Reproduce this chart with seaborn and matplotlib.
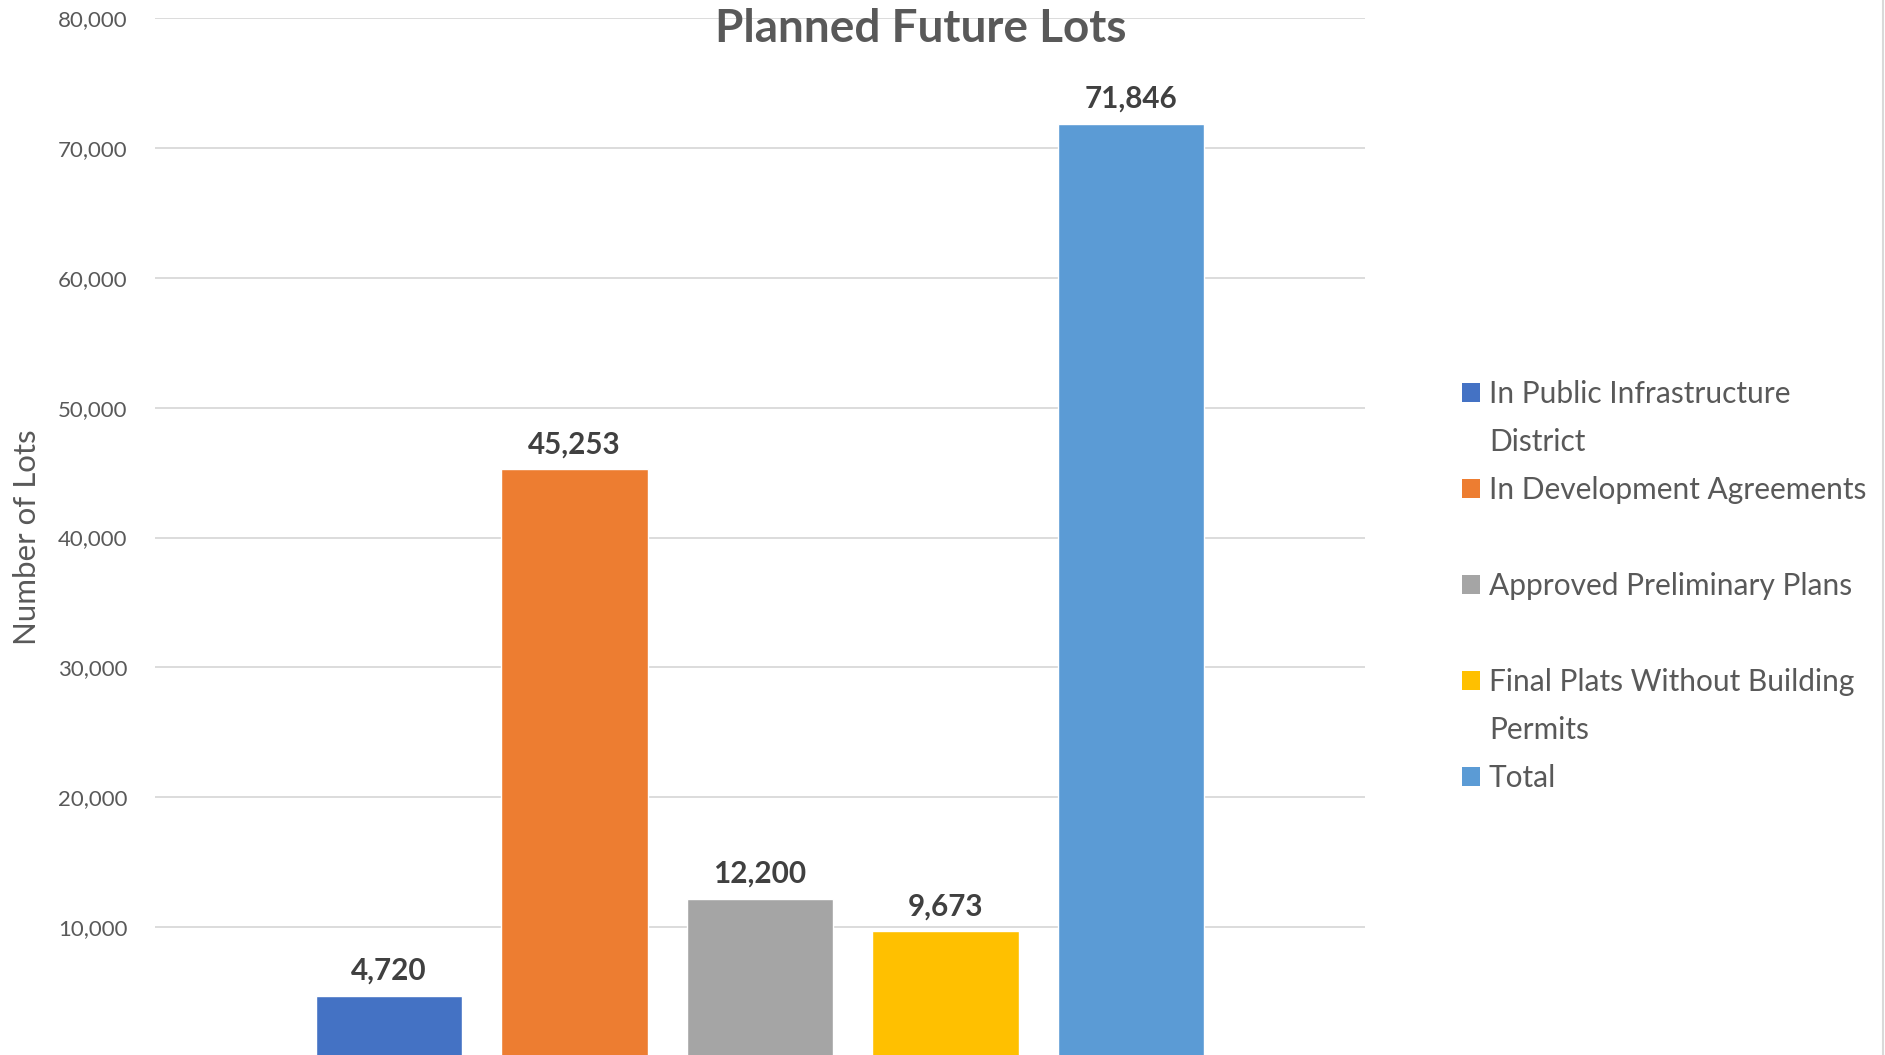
import matplotlib
matplotlib.use("Agg")
import matplotlib.pyplot as plt
from matplotlib.patches import Patch
from matplotlib.lines import Line2D
import seaborn as sns
import pandas as pd

categories = ["In Public Infrastructure District", "In Development Agreements",
              "Approved Preliminary Plans", "Final Plats Without Building Permits", "Total"]
values = [4720, 45253, 12200, 9673, 71846]
colors = ["#4472C4", "#ED7D31", "#A5A5A5", "#FFC000", "#5B9BD5"]
yticks = [10000, 20000, 30000, 40000, 50000, 60000, 70000, 80000]
title = "Planned Future Lots"
ylabel = "Number of Lots"

sns.set_theme(style="white")
plt.rcParams['font.family'] = ['Lato', 'DejaVu Sans']

df = pd.DataFrame({"cat": categories, "val": values})

fig = plt.figure(figsize=(18.85, 10.55), dpi=100)
ax = fig.add_axes([155/1885, -2/1055, (1365-155)/1885, (1057-18)/1055])
sns.barplot(data=df, x="cat", y="val", hue="cat", palette=colors, width=0.79,
            legend=False, ax=ax, saturation=1, zorder=3)
ax.set_xlim(-1.26, 5.26)
ax.set_ylim(0, 80000)
ax.set_yticks(yticks)
ax.set_yticklabels([f"{v:,}" for v in yticks])
ax.tick_params(axis='y', length=0, pad=20, labelsize=16, labelcolor="#595959")
ax.set_xticks([])
ax.set_xlabel("")
ax.set_ylabel(ylabel, fontsize=22.5, color="#595959")
ax.yaxis.set_label_coords(-(155-41)/1210, 0.5)
ax.grid(axis='y', color="#D9D9D9", linewidth=1.3, zorder=0)
for s in ax.spines.values():
    s.set_visible(False)

for i, v in enumerate(values):
    ax.annotate(f"{v:,}", (i, v), xytext=(0, 8), textcoords="offset points",
                ha="center", va="bottom", fontsize=21.3, fontweight="bold", color="#404040")

fig.text(921/1885, 1-29/1055, title, ha="center", va="center", fontsize=33,
         fontweight="bold", color="#595959")

# legend rows
leg_labels = ["In Public Infrastructure", "District", "In Development Agreements", " ",
              "Approved Preliminary Plans", " ", "Final Plats Without Building", "Permits", "Total"]
leg_colors = [colors[0], None, colors[1], None, colors[2], None, colors[3], None, colors[4]]
handles = [Patch(facecolor=c, edgecolor="none") if c else Patch(facecolor="none", edgecolor="none")
           for c in leg_colors]
leg = fig.legend(handles, leg_labels, loc="upper left", bbox_to_anchor=(1462/1885, 1-380/1055),
                 frameon=False, fontsize=21.5, labelcolor="#595959", handlelength=0.6,
                 handleheight=0.6, handletextpad=0.3, labelspacing=0.67, borderpad=0,
                 borderaxespad=0)

fig.add_artist(Line2D([1883/1885, 1883/1885], [0, 1], color="#D9D9D9", linewidth=1.5,
                      transform=fig.transFigure))

fig.savefig("out.png", dpi=100)
